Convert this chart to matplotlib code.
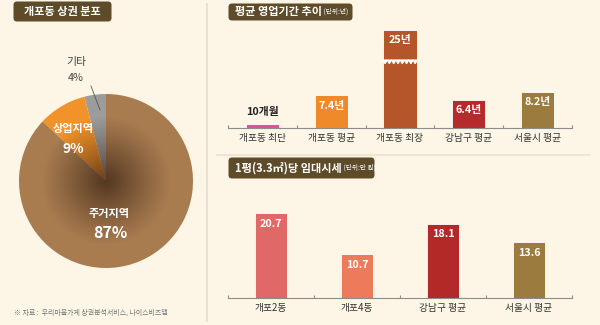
import numpy as np
import matplotlib
matplotlib.use("Agg")
import matplotlib.pyplot as plt
from matplotlib.patches import FancyBboxPatch, Circle

plt.rcParams['font.family'] = ['Noto Sans CJK KR', 'DejaVu Sans']

# 상권 분포
pie_labels = ["기타", "상업지역", "주거지역"]
pie_values = [4, 9, 87]
pie_colors = ["#9c9c9c", "#f2922a", "#a97c50"]

# 평균 영업기간 (년)
period_cats = ["개포동 최단", "개포동 평균", "개포동 최장", "강남구 평균", "서울시 평균"]
period_vals = [10 / 12, 7.4, 25, 6.4, 8.2]
period_text = ["10개월", "7.4년", "25년", "6.4년", "8.2년"]
period_colors = ["#d8559a", "#ee8a2a", "#b5552a", "#b52a2a", "#9c7b3e"]

# 1평당 임대시세 (만 원)
rent_cats = ["개포2동", "개포4동", "강남구 평균", "서울시 평균"]
rent_vals = [20.7, 10.7, 18.1, 13.6]
rent_colors = ["#e06866", "#ee7a5c", "#b32828", "#9c7b3e"]

BG = "#fdf6e6"
BOX = "#5e4b2a"
W, H = 600, 325

fig = plt.figure(figsize=(6, 3.25), dpi=100, facecolor=BG)


def px_axes(left, top, right, bottom):
    return fig.add_axes([left / W, 1 - bottom / H, (right - left) / W, (bottom - top) / H])


# overlay for boxes, dividers and free text (pixel coords, y down)
ov = fig.add_axes([0, 0, 1, 1], zorder=5)
ov.set_xlim(0, W)
ov.set_ylim(H, 0)
ov.axis("off")
ov.patch.set_alpha(0)

ov.plot([207, 207], [4, 321], color="#e6dccb", lw=1.2)
ov.plot([217, 590], [155, 155], color="#ece2cf", lw=1.2)


def title_box(x0, y0, x1, y1, main, unit=None):
    ov.add_patch(FancyBboxPatch((x0 + 4, y0 + 3), x1 - x0 - 8, y1 - y0 - 6,
                                boxstyle="round,pad=3.5", fc=BOX, ec="none"))
    if unit is None:
        ov.text((x0 + x1) / 2, (y0 + y1) / 2, main, color="white", fontsize=8,
                fontweight="bold", ha="center", va="center")
    else:
        t = ov.text(x0 + 7, (y0 + y1) / 2, main, color="white", fontsize=8,
                    fontweight="bold", ha="left", va="center")
        ov.annotate(" " + unit, xy=(1, 0.55), xycoords=t, color="white", fontsize=4.8,
                    ha="left", va="center")


title_box(13, 2, 112, 21, "개포동 상권 분포")
title_box(228, 4, 353, 20, "평균 영업기간 추이", "(단위:년)")
title_box(228, 158, 375, 178, "1평(3.3㎡)당 임대시세", "(단위:만 원)")

ov.text(14, 313, "※ 자료 :  우리마을가게 상권분석서비스, 나이스비즈맵", color="#777777",
        fontsize=5, ha="left", va="center")

# ---- pie ----
pax = px_axes(19, 94, 193, 268)
wedges, _ = pax.pie(pie_values, colors=pie_colors, startangle=90, counterclock=True,
                    radius=1, wedgeprops=dict(linewidth=0))
pax.set_xlim(-1, 1)
pax.set_ylim(-1, 1)
pax.set_aspect("equal")
pax.axis("off")

# radial shading toward the center
n = 300
gx, gy = np.meshgrid(np.linspace(-1, 1, n), np.linspace(-1, 1, n))
r = np.sqrt(gx ** 2 + gy ** 2)
shade = np.zeros((n, n, 4))
shade[..., :3] = [0.18, 0.1, 0.05]
shade[..., 3] = np.clip(1 - r / 0.75, 0, 1) ** 1.1 * 0.7
im = pax.imshow(shade, extent=[-1, 1, -1, 1], origin="lower", zorder=3)
im.set_clip_path(Circle((0, 0), 1, transform=pax.transData))

pax.text(-0.38, 0.6, pie_labels[1], color="white", fontsize=8, fontweight="bold",
         ha="center", va="center", zorder=4)
pax.text(-0.38, 0.37, f"{pie_values[1]}%", color="white", fontsize=10, fontweight="bold",
         ha="center", va="center", zorder=4)
pax.text(0.03, -0.37, pie_labels[2], color="white", fontsize=8, fontweight="bold",
         ha="center", va="center", zorder=4)
pax.text(0.05, -0.6, f"{pie_values[2]}%", color="white", fontsize=11.5, fontweight="bold",
         ha="center", va="center", zorder=4)

ov.text(76, 62, pie_labels[0], color="#444444", fontsize=7.8, ha="center", va="center")
ov.text(76, 78, f"{pie_values[0]}%", color="#444444", fontsize=7.8, ha="center", va="center")
ov.plot([91, 100], [86, 110], color="#555555", lw=0.6)


# ---- bar panels ----
def style_bar_axis(ax, ncat):
    ax.set_facecolor("none")
    for s in ["top", "right", "left"]:
        ax.spines[s].set_visible(False)
    ax.spines["bottom"].set_color("#8c8c8c")
    ax.spines["bottom"].set_linewidth(0.8)
    ax.set_xlim(-0.5, ncat - 0.5)
    ax.set_xticks(np.arange(ncat + 1) - 0.5)
    ax.set_xticklabels([])
    ax.tick_params(axis="x", direction="in", length=2.5, width=0.8, color="#8c8c8c")
    ax.tick_params(axis="y", which="both", left=False, labelleft=False)


def fwd(y):
    y = np.asarray(y, dtype=float)
    return np.where(y <= 15, y, 15 + (y - 15) * 0.73)


def inv(y):
    y = np.asarray(y, dtype=float)
    return np.where(y <= 15, y, 15 + (y - 15) / 0.73)


ax1 = px_axes(228, 20, 572, 128)
ax1.set_yscale("function", functions=(fwd, inv))
ax1.set_ylim(0, 28)
x1 = np.arange(len(period_cats))
ax1.bar(x1, period_vals, width=0.48, color=period_colors, edgecolor="white", linewidth=0.6)
style_bar_axis(ax1, len(period_cats))
ax1.yaxis.set_major_locator(matplotlib.ticker.NullLocator())
ax1.yaxis.set_minor_locator(matplotlib.ticker.NullLocator())

# break mark on the long bar
bi = period_vals.index(max(period_vals))
zx = np.linspace(bi - 0.25, bi + 0.25, 17)
zy = np.where(np.arange(17) % 2 == 0, 15.6, 14.6)
ax1.fill_between(zx, zy, 15.9, color="white", lw=0)
ax1.plot(zx, zy, color="white", lw=0.8)

for i, (v, t) in enumerate(zip(period_vals, period_text)):
    if v < 2:
        ax1.annotate(t, (i, v), xytext=(0, 5), textcoords="offset points", ha="center",
                     va="bottom", fontsize=7.8, fontweight="bold", color="#222222")
    else:
        ax1.annotate(t, (i, v), xytext=(0, -4), textcoords="offset points", ha="center",
                     va="top", fontsize=7.8, fontweight="bold", color="white")
    ax1.annotate(period_cats[i], (i, 0), xytext=(0, -3.5), textcoords="offset points",
                 ha="center", va="top", fontsize=7, color="#333333")

ax2 = px_axes(228, 180, 572, 298)
ax2.set_ylim(0, 28.8)
x2 = np.arange(len(rent_cats))
ax2.bar(x2, rent_vals, width=0.38, color=rent_colors, edgecolor="white", linewidth=0.6)
style_bar_axis(ax2, len(rent_cats))
for i, v in enumerate(rent_vals):
    ax2.annotate(f"{v}", (i, v), xytext=(0, -4), textcoords="offset points", ha="center",
                 va="top", fontsize=7.8, fontweight="bold", color="white")
    ax2.annotate(rent_cats[i], (i, 0), xytext=(0, -3.5), textcoords="offset points",
                 ha="center", va="top", fontsize=7, color="#333333")

fig.savefig("out.png", dpi=100, facecolor=BG)
